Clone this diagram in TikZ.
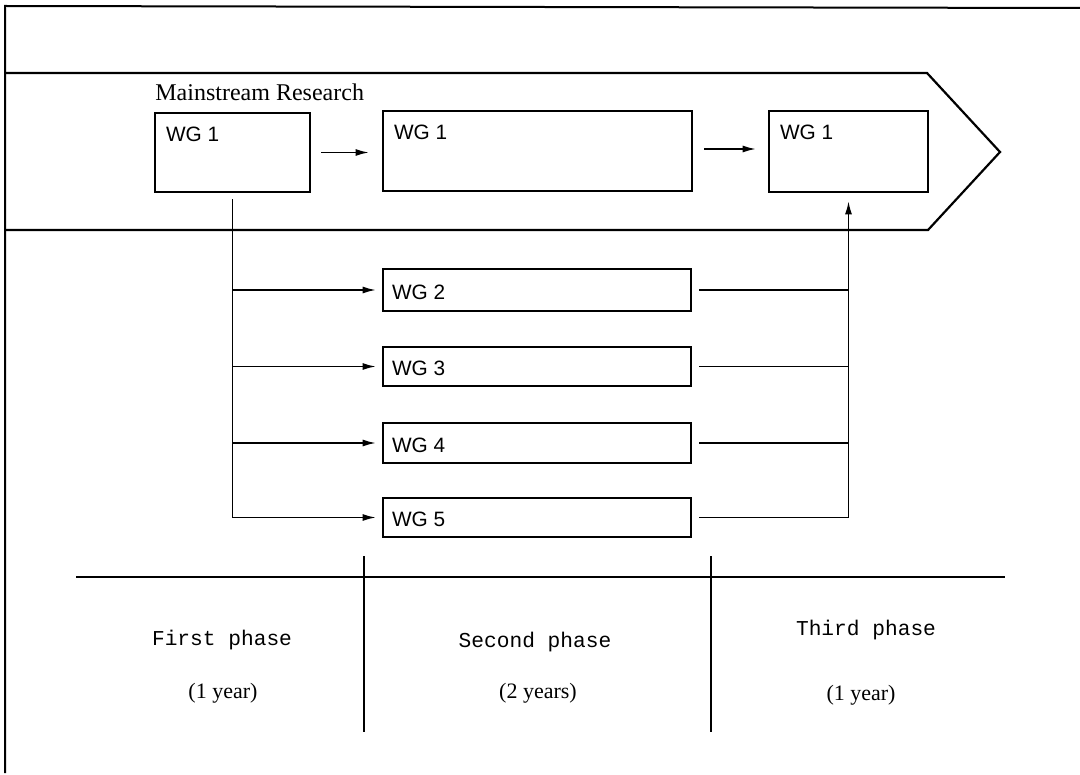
\documentclass[tikz,border=0pt]{standalone}
\usepackage{fontspec}
\setmainfont{Liberation Serif}
\newfontfamily\wgfont{Liberation Sans}
\newfontfamily\monofont{Liberation Mono}
\usetikzlibrary{arrows.meta}
\begin{document}
\begin{tikzpicture}[x=0.5pt,y=-0.5pt,
  frame/.style={line width=1pt},
  bigbox/.style={draw, line width=1.3pt, rectangle, inner sep=0pt},
  wgtext/.style={font=\wgfont\fontsize{10.4}{12}\selectfont, inner sep=0pt},
  conn/.style={line width=0.75pt},
  arr/.style={conn, -{Latex[length=6.5pt,width=3.5pt]}},
  phasetext/.style={font=\monofont\fontsize{10.6}{12}\selectfont, inner sep=0pt},
  yeartext/.style={font=\fontsize{11}{12}\selectfont, inner sep=0pt},
  divider/.style={line width=0.9pt}]
\useasboundingbox (0,0) rectangle (1080,775);
% outer frame
\draw[frame] (5,773) -- (5,6) -- (1080,8);
% mainstream arrow
\draw[line width=1.1pt] (5,73) -- (927,73) -- (1000,152) -- (928,230) -- (5,230);
\node[font=\fontsize{12}{14}\selectfont, inner sep=0pt, anchor=base west] (ms) at (155,101) {Mainstream Research};
% WG1 boxes
\node[bigbox, minimum width=77.5pt, minimum height=39.5pt] (a1) at (232.5,152.5) {};
\node[bigbox, minimum width=154.5pt, minimum height=40pt] (a2) at (537.5,151) {};
\node[bigbox, minimum width=79.5pt, minimum height=40.5pt] (a3) at (848.5,151.5) {};
\node[wgtext, anchor=north west] (a1t) at ([xshift=6pt,yshift=-7.5pt]a1.north west) {WG 1};
\node[wgtext, anchor=north west] (a2t) at ([xshift=6pt,yshift=-7.5pt]a2.north west) {WG 1};
\node[wgtext, anchor=north west] (a3t) at ([xshift=6pt,yshift=-7.5pt]a3.north west) {WG 1};
% WG2-5 boxes
\node[bigbox, minimum width=154pt, minimum height=21pt] (wg2) at (537,290) {};
\node[bigbox, minimum width=154pt, minimum height=19.5pt] (wg3) at (537,366.5) {};
\node[bigbox, minimum width=154pt, minimum height=20pt] (wg4) at (537,443) {};
\node[bigbox, minimum width=154pt, minimum height=19.5pt] (wg5) at (537,517.5) {};
\node[wgtext, anchor=west] (wg2t) at ([xshift=5pt,yshift=-1pt]wg2.west) {WG 2};
\node[wgtext, anchor=west] (wg3t) at ([xshift=5pt,yshift=-1pt]wg3.west) {WG 3};
\node[wgtext, anchor=west] (wg4t) at ([xshift=5pt,yshift=-1pt]wg4.west) {WG 4};
\node[wgtext, anchor=west] (wg5t) at ([xshift=5pt,yshift=-1pt]wg5.west) {WG 5};
% arrows between WG1 boxes
\draw[arr, shorten <=5pt, shorten >=6.5pt] (a1.east) -- (a1.east -| a2.west);
\draw[arr, shorten <=5.5pt, shorten >=6pt] ([yshift=1pt]a2.east) -- ([yshift=1pt]a2.east -| a3.west);
% left trunk
\draw[conn, shorten <=3pt] (a1.south) -- (a1.south |- wg5.west);
\draw[arr, shorten >=3pt] (a1.south |- wg5.west) -- (wg5.west);
\draw[arr, shorten >=3pt] (a1.south |- wg2.west) -- (wg2.west);
\draw[arr, shorten >=3pt] (a1.south |- wg3.west) -- (wg3.west);
\draw[arr, shorten >=3pt] (a1.south |- wg4.west) -- (wg4.west);
% right trunk
\draw[conn, shorten <=3.5pt] (wg2.east) -- (wg2.east -| a3.south);
\draw[conn, shorten <=3.5pt] (wg3.east) -- (wg3.east -| a3.south);
\draw[conn, shorten <=3.5pt] (wg4.east) -- (wg4.east -| a3.south);
\draw[arr, shorten <=3.5pt, shorten >=4pt] (wg5.east) -- (wg5.east -| a3.south) -- (a3.south);
% phase table
\coordinate (hl) at (76,577);
\coordinate (hr) at (1005,577);
\coordinate (d1t) at (364,556);
\coordinate (d1b) at (364,732);
\coordinate (d2t) at (711,556);
\coordinate (d2b) at (711,732);
\draw[line width=1.1pt] (hl) -- (hr);
\draw[divider] (d1t) -- (d1b);
\draw[divider] (d2t) -- (d2b);
\node[phasetext] (p1) at (222,640) {First phase};
\node[phasetext] (p2) at (535,642) {Second phase};
\node[phasetext] (p3) at (866,630) {Third phase};
\node[yeartext] (y1) at (223,693) {(1 year)};
\node[yeartext] (y2) at (538,693) {(2 years)};
\node[yeartext] (y3) at (861,695) {(1 year)};
\end{tikzpicture}
\end{document}
